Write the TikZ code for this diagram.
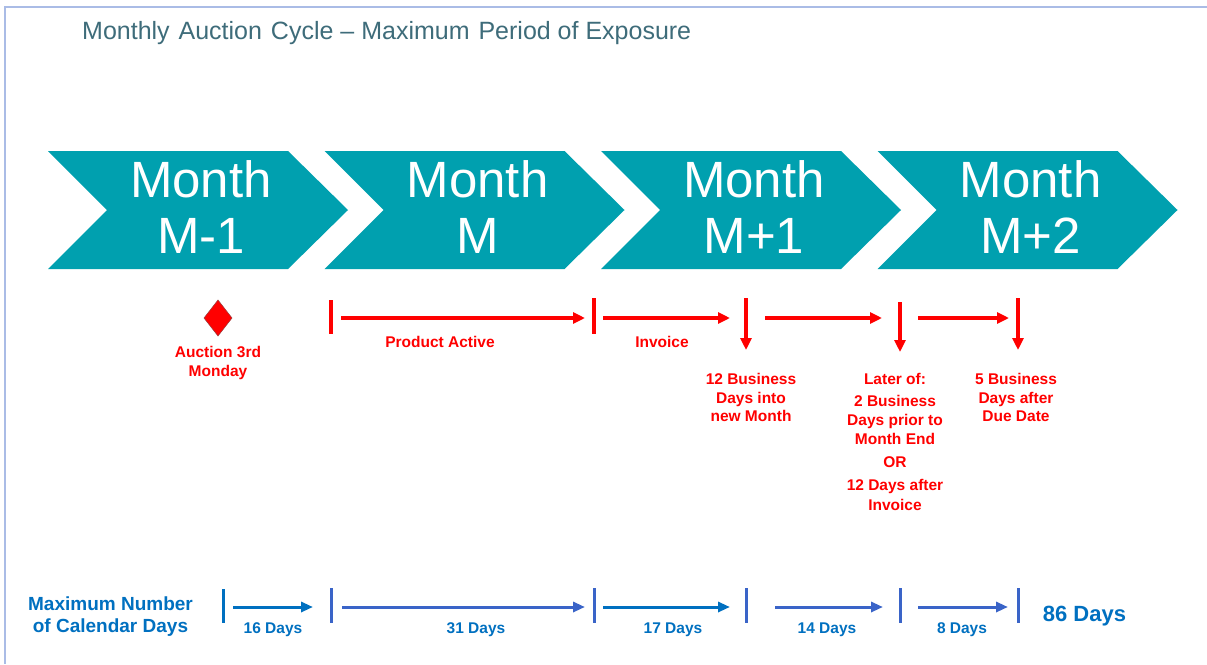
\documentclass[tikz,border=0pt]{standalone}
\usepackage{fontspec}
\setmainfont{Liberation Sans}
\usetikzlibrary{arrows.meta}
\definecolor{teal1}{RGB}{0,160,175}
\definecolor{titlec}{RGB}{62,108,122}
\definecolor{redc}{RGB}{255,0,0}
\definecolor{blueA}{RGB}{0,112,192}
\definecolor{blueB}{RGB}{58,100,200}
\definecolor{framec}{RGB}{170,188,230}
\newcommand\fsz[1]{\fontsize{#1}{#1}\selectfont}
\begin{document}
\begin{tikzpicture}[x=1pt,y=-1pt,
  lbl/.style={inner sep=0pt, anchor=base},
  chevtxt/.style={lbl, text=white, font=\fsz{51}},
  redlbl/.style={lbl, text=redc, font=\bfseries\fsz{15.5}},
  bluelbl/.style={lbl, text=blueA, font=\bfseries\fsz{15.5}},
  redtick/.style={draw=redc, line width=3.2pt},
  redarr/.style={draw=redc, line width=3.2pt, -{Triangle[length=12pt,width=11pt]}},
  bluetick/.style={line width=3pt},
  bluearr/.style={line width=3pt, -{Triangle[length=12pt,width=10pt]}},
]
\useasboundingbox (0,0) rectangle (1207,664);
\fill[white] (0,0) rectangle (1207,664);
\draw[framec, line width=1.5pt] (5,664) -- (5,7) -- (1207,7);

% title
\node[lbl, anchor=base west, text=titlec, font=\fsz{25}] (title) at (82,39)
  {Monthly\hspace{2pt} Auction\hspace{2pt} Cycle -- Maximum\hspace{2pt} Period of Exposure};

% chevrons
\foreach \i/\lab in {0/M-1,1/M,2/M+1,3/M+2} {
  \pgfmathsetmacro\xa{48+276.5*\i}
  \fill[teal1] (\xa,151) -- ++(240,0) -- ++(60,59) -- ++(-60,59) -- ++(-240,0) -- ++(59,-59) -- cycle;
  \node[chevtxt] (mon\i) at (\xa+153,197) {Month};
  \node[chevtxt] (mlab\i) at (\xa+153,253) {\lab};
}

% red row
\fill[redc, draw={rgb,255:red,150;green,60;blue,60}, line width=0.5pt]
  (218,300) -- (232,318) -- (218,336) -- (204,318) -- cycle;
\node[redlbl] (auc1) at (218,357) {Auction 3rd};
\node[redlbl] (auc2) at (218,376) {Monday};

\coordinate (rt1a) at (331,300); \coordinate (rt1b) at (331,334);
\coordinate (rt2a) at (594,298); \coordinate (rt2b) at (594,334);
\draw[redtick] (rt1a) -- (rt1b);
\draw[redtick] (rt2a) -- (rt2b);

\coordinate (ra1s) at (341,318); \coordinate (ra1e) at (585,318);
\coordinate (ra2s) at (603,318); \coordinate (ra2e) at (730,318);
\coordinate (ra3s) at (765,318); \coordinate (ra3e) at (882,318);
\coordinate (ra4s) at (918,318); \coordinate (ra4e) at (1009,318);
\draw[redarr] (ra1s) -- (ra1e);
\draw[redarr] (ra2s) -- (ra2e);
\draw[redarr] (ra3s) -- (ra3e);
\draw[redarr] (ra4s) -- (ra4e);

\coordinate (rd1s) at (746,298); \coordinate (rd1e) at (746,350);
\coordinate (rd2s) at (900,302); \coordinate (rd2e) at (900,352);
\coordinate (rd3s) at (1018,298); \coordinate (rd3e) at (1018,350);
\draw[redarr] (rd1s) -- (rd1e);
\draw[redarr] (rd2s) -- (rd2e);
\draw[redarr] (rd3s) -- (rd3e);

\node[redlbl] (pa) at (440,347) {Product Active};
\node[redlbl] (inv) at (662,347) {Invoice};

\node[redlbl] (b1) at (751,384) {12 Business};
\node[redlbl] (b2) at (751,403) {Days into};
\node[redlbl] (b3) at (751,421) {new Month};

\node[redlbl] (l1) at (895,384) {Later of:};
\node[redlbl] (l2) at (895,406) {2 Business};
\node[redlbl] (l3) at (895,425) {Days prior to};
\node[redlbl] (l4) at (895,444) {Month End};
\node[redlbl] (l5) at (895,467) {OR};
\node[redlbl] (l6) at (895,490) {12 Days after};
\node[redlbl] (l7) at (895,510) {Invoice};

\node[redlbl] (d1) at (1016,384) {5 Business};
\node[redlbl] (d2) at (1016,403) {Days after};
\node[redlbl] (d3) at (1016,421) {Due Date};

% blue row
\node[lbl, text=blueA, font=\bfseries\fsz{19}] (mx1) at (110.5,610) {Maximum Number};
\node[lbl, text=blueA, font=\bfseries\fsz{19}] (mx2) at (110.5,632) {of Calendar Days};

\coordinate (bt0a) at (223,589); \coordinate (bt0b) at (223,623);
\coordinate (bt1a) at (331,588); \coordinate (bt1b) at (331,623);
\coordinate (bt2a) at (594,588); \coordinate (bt2b) at (594,623);
\coordinate (bt3a) at (746,588); \coordinate (bt3b) at (746,623);
\coordinate (bt4a) at (900,588); \coordinate (bt4b) at (900,623);
\coordinate (bt5a) at (1018,588); \coordinate (bt5b) at (1018,623);
\draw[bluetick, blueA] (bt0a) -- (bt0b);
\draw[bluetick, blueB] (bt1a) -- (bt1b);
\draw[bluetick, blueB] (bt2a) -- (bt2b);
\draw[bluetick, blueB] (bt3a) -- (bt3b);
\draw[bluetick, blueB] (bt4a) -- (bt4b);
\draw[bluetick, blueB] (bt5a) -- (bt5b);

\coordinate (ba1s) at (233,607); \coordinate (ba1e) at (313,607);
\coordinate (ba2s) at (342,607); \coordinate (ba2e) at (585,607);
\coordinate (ba3s) at (603,607); \coordinate (ba3e) at (730,607);
\coordinate (ba4s) at (775,607); \coordinate (ba4e) at (883,607);
\coordinate (ba5s) at (918,607); \coordinate (ba5e) at (1008,607);
\draw[bluearr, blueA] (ba1s) -- (ba1e);
\draw[bluearr, blueB] (ba2s) -- (ba2e);
\draw[bluearr, blueA] (ba3s) -- (ba3e);
\draw[bluearr, blueB] (ba4s) -- (ba4e);
\draw[bluearr, blueB] (ba5s) -- (ba5e);

\node[bluelbl] (n16) at (273,633) {16 Days};
\node[bluelbl] (n31) at (476,633) {31 Days};
\node[bluelbl] (n17) at (673,633) {17 Days};
\node[bluelbl] (n14) at (827,633) {14 Days};
\node[bluelbl] (n8) at (962,633) {8 Days};
\node[lbl, text=blueA, font=\bfseries\fsz{22}] (n86) at (1084.5,621) {86 Days};
\end{tikzpicture}
\end{document}
